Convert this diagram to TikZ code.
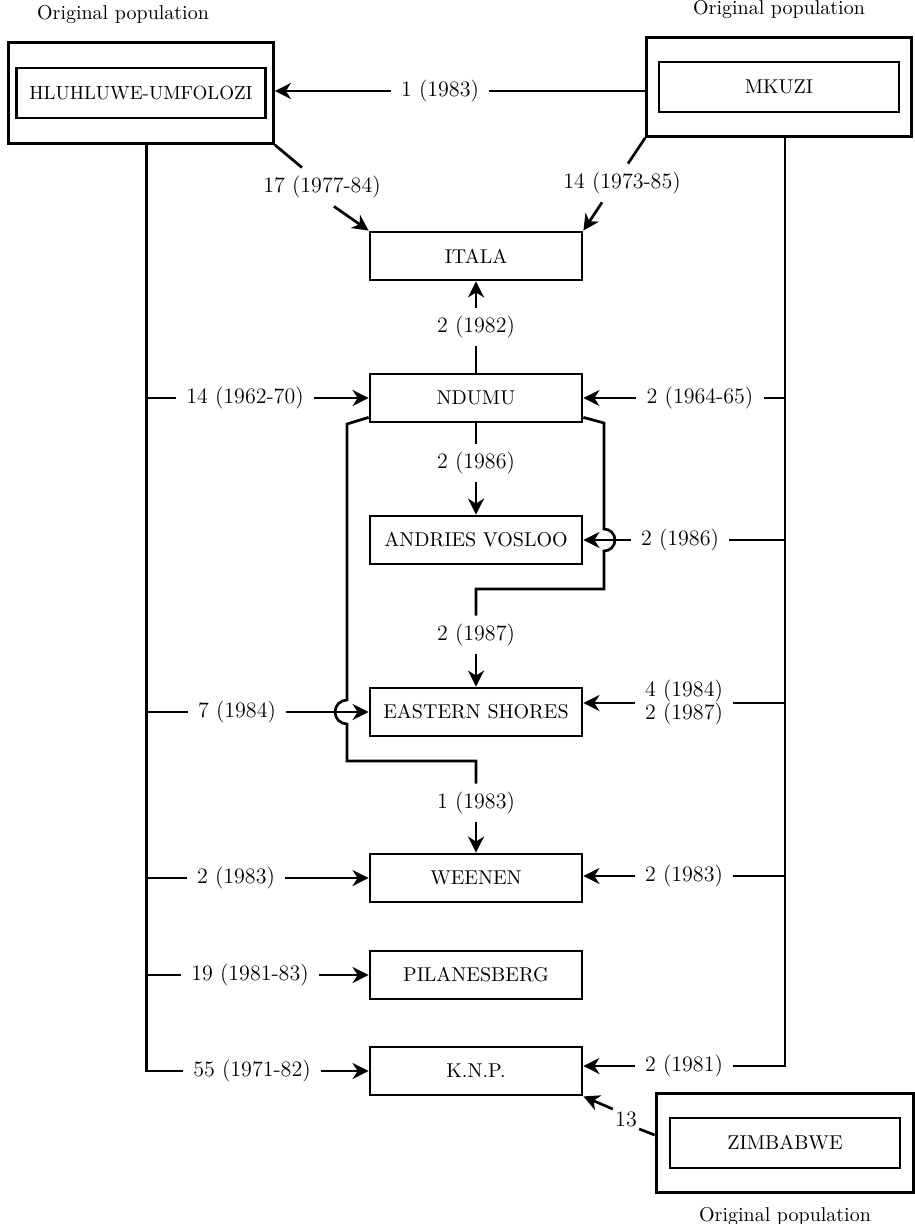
\documentclass[tikz,border=0pt]{standalone}
\usepackage{tikz}
\usetikzlibrary{arrows.meta,positioning,fit}

\begin{document}
\begin{tikzpicture}[
    x=0.5pt, y=-0.5pt,
    box/.style={rectangle, draw, line width=1.4pt, minimum width=106pt,
                minimum height=24pt, font=\fontsize{10}{12}\selectfont},
    outer/.style={rectangle, draw, line width=1.5pt},
    num/.style={font=\fontsize{11}{11.5}\selectfont, inner xsep=5pt,
                inner ysep=4pt, align=center},
    orig/.style={font=\fontsize{10}{12}\selectfont},
    link/.style={line width=1.35pt},
    arr/.style={line width=1.35pt, -{Stealth[length=8pt, width=8pt, inset=2.5pt]}},
]
    \useasboundingbox (0,0) rectangle (914,1224);

    % original populations
    \node[box, minimum width=124.5pt, minimum height=25pt, inner xsep=1pt,
          font=\fontsize{9.5}{11}\selectfont] (huin) at (141,93) {HLUHLUWE-UMFOLOZI};
    \node[outer, inner xsep=3.25pt, inner ysep=12pt, fit=(huin)] (hu) {};
    \node[orig, above=5pt of hu, xshift=-9pt] (huorig) {Original population};

    \node[box, minimum width=120pt, minimum height=25pt] (mkin) at (779,87) {MKUZI};
    \node[outer, inner xsep=5.5pt, inner ysep=11.5pt, fit=(mkin)] (mk) {};
    \node[orig, above=5pt of mk] (mkorig) {Original population};

    \node[box, minimum width=115pt, minimum height=25pt] (zimin) at (785,1143) {ZIMBABWE};
    \node[outer, inner xsep=6.25pt, inner ysep=11.75pt, fit=(zimin)] (zim) {};
    \node[orig, below=3pt of zim] (zimorig) {Original population};

    % reserves
    \node[box] (itala) at (476,256) {ITALA};
    \node[box] (ndumu) at (476,398) {NDUMU};
    \node[box] (av) at (476,540) {ANDRIES VOSLOO};
    \node[box] (es) at (476,712) {EASTERN SHORES};
    \node[box] (wee) at (476,878) {WEENEN};
    \node[box] (pil) at (476,975) {PILANESBERG};
    \node[box] (knp) at (476,1071) {K.N.P.};

    % trunks
    \coordinate (hut) at ([xshift=2.75pt]hu.south);
    \coordinate (mkt) at ([xshift=3pt]mk.south);

    % top row
    \node[num] (mkhu) at (440,91) {1 (1983)};
    \draw[link] (mk.west |- mkhu) -- (mkhu.east);
    \draw[arr] (mkhu.west) -- (hu.east |- mkhu);

    \node[num] (huit) at (322,187) {17 (1977-84)};
    \draw[link] (hu.south east) -- ([xshift=-10pt]huit.north);
    \draw[arr] ([xshift=6pt]huit.south) -- (itala.north west);

    \node[num] (mkit) at (622,183) {14 (1973-85)};
    \draw[link] (mk.south west) -- ([xshift=3pt]mkit.north);
    \draw[arr] ([xshift=-10pt]mkit.south) -- (itala.north east);

    % from Ndumu
    \node[num] (ndit) at (476,327) {2 (1982)};
    \draw[link] (ndumu.north) -- (ndit.south);
    \draw[arr] (ndit.north) -- (itala.south);

    \node[num] (ndav) at (476,463) {2 (1986)};
    \draw[link] (ndumu.south) -- (ndav.north);
    \draw[arr] (ndav.south) -- (av.north);

    \node[num] (ndes) at (476,635) {2 (1987)};
    \draw[link] ([yshift=3pt]ndumu.south east) -- (604,423) -- (604,529)
        arc[start angle=90, end angle=-90, radius=5.5pt] -- (604,589) -| (ndes.north);
    \draw[arr] (ndes.south) -- (es.north);

    \node[num] (ndwe) at (476,803) {1 (1983)};
    \draw[link] ([yshift=3pt]ndumu.south west) -- (347,424) -- (347,700)
        arc[start angle=90, end angle=270, radius=6pt] -- (347,761) -| (ndwe.north);
    \draw[arr] (ndwe.south) -- (wee.north);

    % from Hluhluwe-Umfolozi
    \node[num] (hund) at (245,398) {14 (1962-70)};
    \draw[link] (hund.west -| hut) -- (hund.west);
    \draw[arr] (hund.east) -- (ndumu.west);

    \node[num] (hues) at (237,712) {7 (1984)};
    \draw[link] (hues.west -| hut) -- (hues.west);
    \draw[arr] (hues.east) -- (es.west);

    \node[num] (huwe) at (236,878) {2 (1983)};
    \draw[link] (huwe.west -| hut) -- (huwe.west);
    \draw[arr] (huwe.east) -- (wee.west);

    \node[num] (hupi) at (250,975) {19 (1981-83)};
    \draw[link] (hupi.west -| hut) -- (hupi.west);
    \draw[arr] (hupi.east) -- (pil.west);

    \node[num] (hukn) at (252,1071) {55 (1971-82)};
    \draw[link] (hut) -- (hut |- hukn.west) -- (hukn.west);
    \draw[arr] (hukn.east) -- (knp.west);

    % from Mkuzi
    \node[num] (mknd) at (700,398) {2 (1964-65)};
    \draw[link] (mkt |- mknd.east) -- (mknd.east);
    \draw[arr] (mknd.west) -- (ndumu.east);

    \node[num] (mkav) at (680,540) {2 (1986)};
    \draw[link] (mkt |- mkav.east) -- (mkav.east);
    \draw[arr] (mkav.west) -- (av.east);

    \node[num] (mkes) at (684,703) {4 (1984)\\2 (1987)};
    \draw[link] (mkt |- mkes.east) -- (mkes.east);
    \draw[arr] (mkes.west) -- (es.east |- mkes.west);

    \node[num] (mkwe) at (684,876) {2 (1983)};
    \draw[link] (mkt |- mkwe.east) -- (mkwe.east);
    \draw[arr] (mkwe.west) -- (wee.east |- mkwe.west);

    \node[num] (mkkn) at (684,1066) {2 (1981)};
    \draw[link] (mkt) -- (mkt |- mkkn.east) -- (mkkn.east);
    \draw[arr] (mkkn.west) -- (knp.east |- mkkn.west);

    % from Zimbabwe
    \node[num, inner sep=1pt] (zikn) at (626,1119) {13};
    \draw[link] (zikn.south east) -- ([yshift=4pt]zim.west);
    \draw[arr] (zikn.north west) -- (knp.south east);
\end{tikzpicture}
\end{document}
